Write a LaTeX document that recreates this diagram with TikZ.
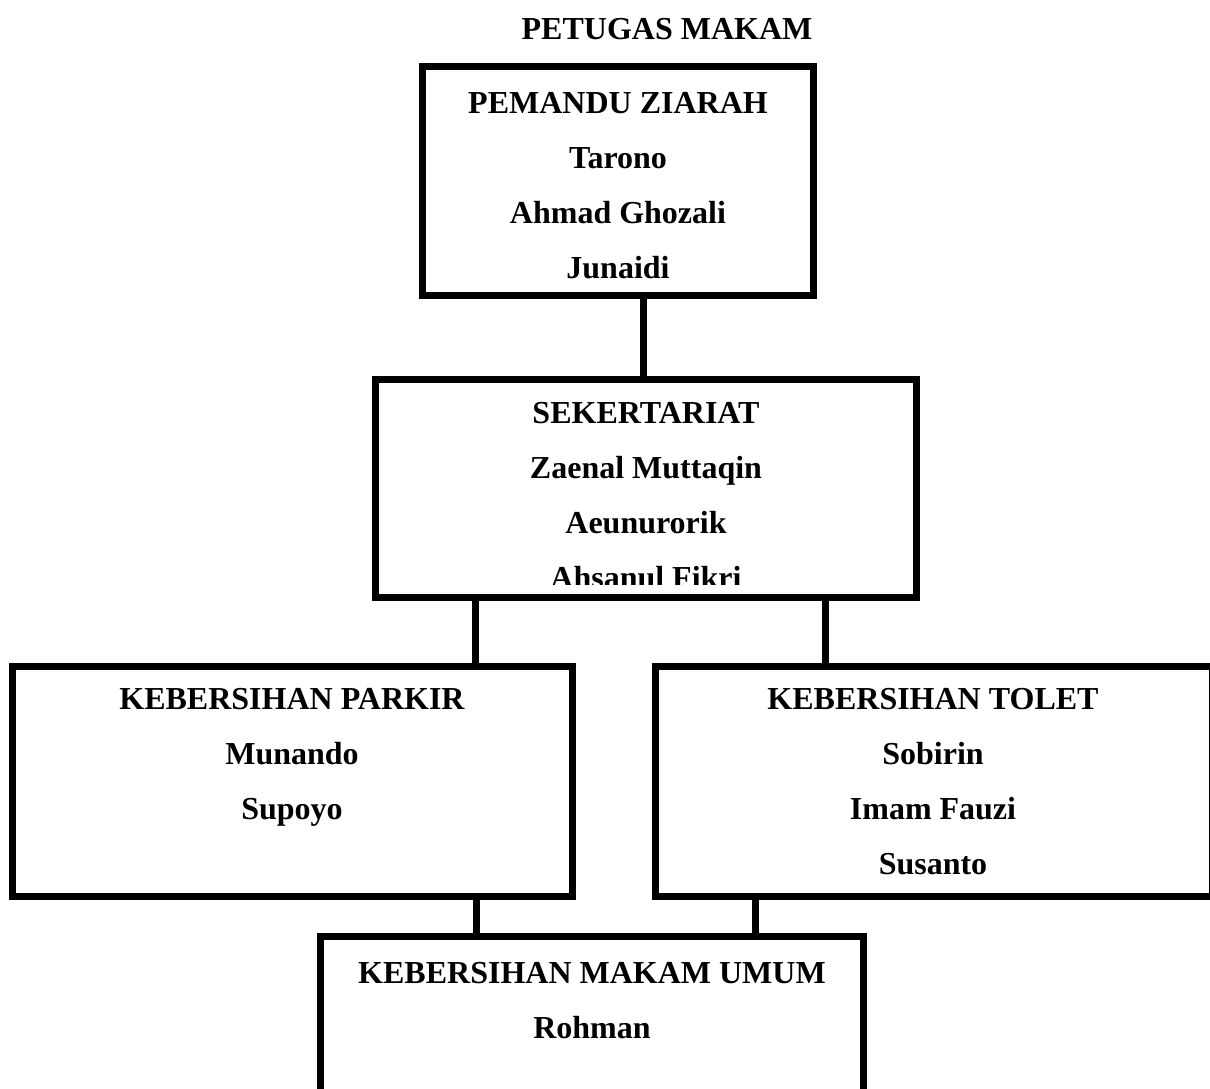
\documentclass[tikz,border=0pt]{standalone}
\usepackage{fontspec}
\setmainfont{Liberation Serif}
\usepackage{tikz}

\tikzset{
    kotak/.style={draw, line width=3.5pt, inner sep=0pt},
    isi/.style={anchor=north, inner sep=0pt, align=center,
        font=\fontsize{16}{27.5}\selectfont\bfseries},
    garis/.style={line width=3.5pt}
}

\begin{document}
\begin{tikzpicture}[x=0.5pt, y=-0.5pt]
    \useasboundingbox (0,0) rectangle (1210,1088);

    % Judul
    \node[isi] (judul) at (667,17.5) {PETUGAS MAKAM};

    % Pemandu ziarah
    \node[kotak, minimum width=195.5pt, minimum height=114.5pt] (pemandu) at (618,181) {};
    \node[isi] (pemanduisi) at (618,91.5) {PEMANDU ZIARAH\\Tarono\\Ahmad Ghozali\\Junaidi};

    % Sekertariat (baris terakhir terpotong)
    \node[kotak, minimum width=270.5pt, minimum height=109pt] (sekretariat) at (646,488.5) {};
    \begin{scope}
        \clip (379,383) rectangle (913,584);
        \node[isi] (sekretariatisi) at (646,401.5) {SEKERTARIAT\\Zaenal Muttaqin\\Aeunurorik\\Ahsanul Fikri};
    \end{scope}

    % Kebersihan parkir
    \node[kotak, minimum width=280pt, minimum height=115pt] (parkir) at (292.5,781.5) {};
    \node[isi] (parkirisi) at (292,687.5) {KEBERSIHAN PARKIR\\Munando\\Supoyo};

    % Kebersihan tolet
    \node[kotak, minimum width=278.25pt, minimum height=115pt] (tolet) at (933.75,781.5) {};
    \node[isi] (toletisi) at (933,687.5) {KEBERSIHAN TOLET\\Sobirin\\Imam Fauzi\\Susanto};

    % Kebersihan makam umum
    \node[kotak, minimum width=271.5pt, minimum height=81.75pt] (umum) at (592,1018.25) {};
    \node[isi] (umumisi) at (592,961.5) {KEBERSIHAN MAKAM UMUM\\Rohman};

    % Garis penghubung
    \draw[garis] (pemandu.south -| 643,0) -- (sekretariat.north -| 643,0);
    \draw[garis] (sekretariat.south -| 475,0) -- (parkir.north -| 475,0);
    \draw[garis] (sekretariat.south -| 825,0) -- (tolet.north -| 825,0);
    \draw[garis] (parkir.south -| 476,0) -- (umum.north -| 476,0);
    \draw[garis] (tolet.south -| 755,0) -- (umum.north -| 755,0);
\end{tikzpicture}
\end{document}
